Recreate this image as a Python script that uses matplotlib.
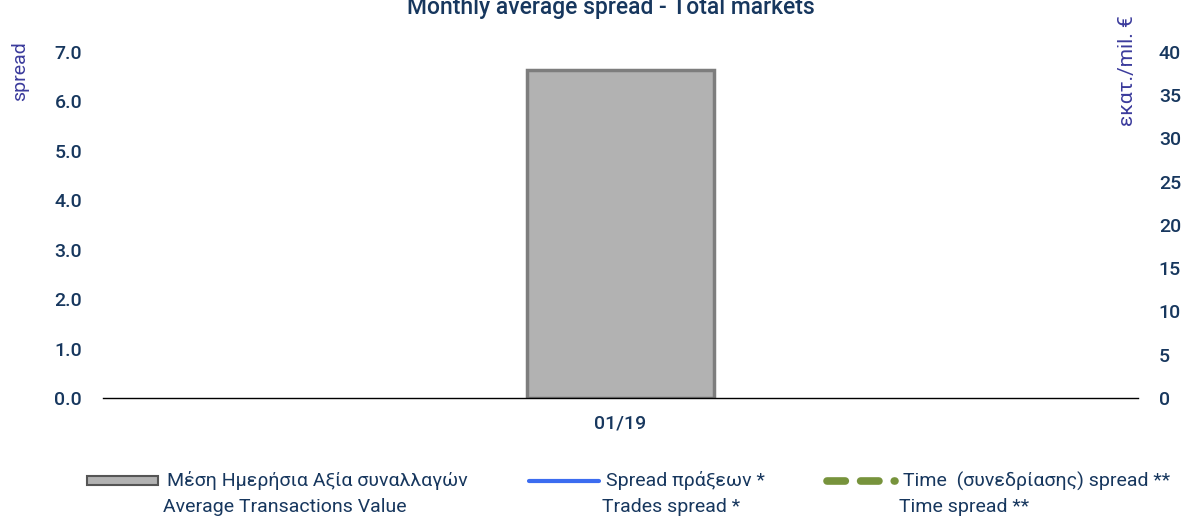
import numpy as np
import matplotlib.pyplot as plt
from matplotlib.lines import Line2D
from matplotlib.patches import Rectangle

# data
months = ['01/19']
avg_value = [37.9]          # million euro, right axis
trades_spread = [np.nan]    # no visible values
time_spread = [np.nan]

navy = '#17375e'
purple = '#3b3b9c'
blue = '#3c6cf0'
green = '#77933c'
plt.rcParams['font.family'] = ['Roboto', 'DejaVu Sans']

W, H = 1182, 517
fig = plt.figure(figsize=(W / 100, H / 100), dpi=100)
ax = fig.add_axes([103 / W, 1 - 398 / H, 1035 / W, 346 / H])
ax2 = ax.twinx()

x = np.arange(len(months))
ax2.bar(x, avg_value, width=0.18, color='#b2b2b2', edgecolor='#7d7d7d', linewidth=2.5, zorder=2)

ax.plot(x, trades_spread, color=blue, lw=3)
ax.plot(x, time_spread, color=green, lw=5, ls=(0, (2.6, 2)))

ax.set_xlim(-0.5, 0.5)
ax.set_ylim(0, 7)
ax2.set_ylim(0, 40)
ax.set_yticks(np.arange(0, 7.1, 1))
ax.set_yticklabels([f'{v:.1f}' for v in np.arange(0, 7.1, 1)])
ax2.set_yticks(np.arange(0, 41, 5))
ax.set_xticks(x)
ax.set_xticklabels(months)

for a in (ax, ax2):
    for s in ('top', 'left', 'right', 'bottom'):
        a.spines[s].set_visible(False)
ax.spines['bottom'].set_visible(True)
ax.spines['bottom'].set_color('black')
ax.spines['bottom'].set_linewidth(1)
ax.set_zorder(ax2.get_zorder() + 1)
ax.patch.set_visible(False)

ax.tick_params(axis='y', length=0, pad=15, labelsize=14, labelcolor=navy)
ax2.tick_params(axis='y', length=0, pad=15, labelsize=14, labelcolor=navy)
ax.tick_params(axis='x', length=0, pad=12, labelsize=14, labelcolor=navy)
for lab in ax.get_yticklabels() + ax2.get_yticklabels() + ax.get_xticklabels():
    lab.set_fontweight('medium')

# title is cut off at the top edge, as in the source image
fig.text(611 / W, 1 - 14 / H, 'Monthly average spread - Total markets', ha='center', va='baseline',
         fontsize=16.5, color=navy, fontweight='medium')
fig.text(20 / W, 1 - 71 / H, 'spread', rotation=90, ha='center', va='center', fontsize=14,
         color=purple)
fig.text(1127 / W, 1 - 71 / H, 'εκατ./mil. €', rotation=90, ha='center', va='center', fontsize=15,
         color=purple)

# legend drawn by hand: handle on the first line, two-line label
fig.add_artist(Rectangle((87 / W, 1 - 485 / H), 71 / W, 9 / H, transform=fig.transFigure,
                         facecolor='#b2b2b2', edgecolor='#555555', linewidth=1.5))
fig.add_artist(Line2D([529 / W, 599 / W], [1 - 481 / H] * 2, transform=fig.transFigure,
                      color=blue, lw=3, solid_capstyle='round'))
fig.add_artist(Line2D([827 / W, 895 / W], [1 - 481 / H] * 2, transform=fig.transFigure,
                      color=green, lw=5.5, ls=(0, (2.4, 2.0)), dash_capstyle='round'))

labels = [
    (167, 'Μέση Ημερήσια Αξία συναλλαγών', 'Average Transactions Value'),
    (606, 'Spread πράξεων *', 'Trades spread *'),
    (903, 'Time  (συνεδρίασης) spread **', 'Time spread **'),
]
for xpix, greek, english in labels:
    fig.text(xpix / W, 1 - 481 / H, greek, ha='left', va='center', fontsize=14, color=navy)
    fig.text((xpix - 4) / W, 1 - 507 / H, english, ha='left', va='center', fontsize=14, color=navy)

fig.savefig('out.png', dpi=100)
